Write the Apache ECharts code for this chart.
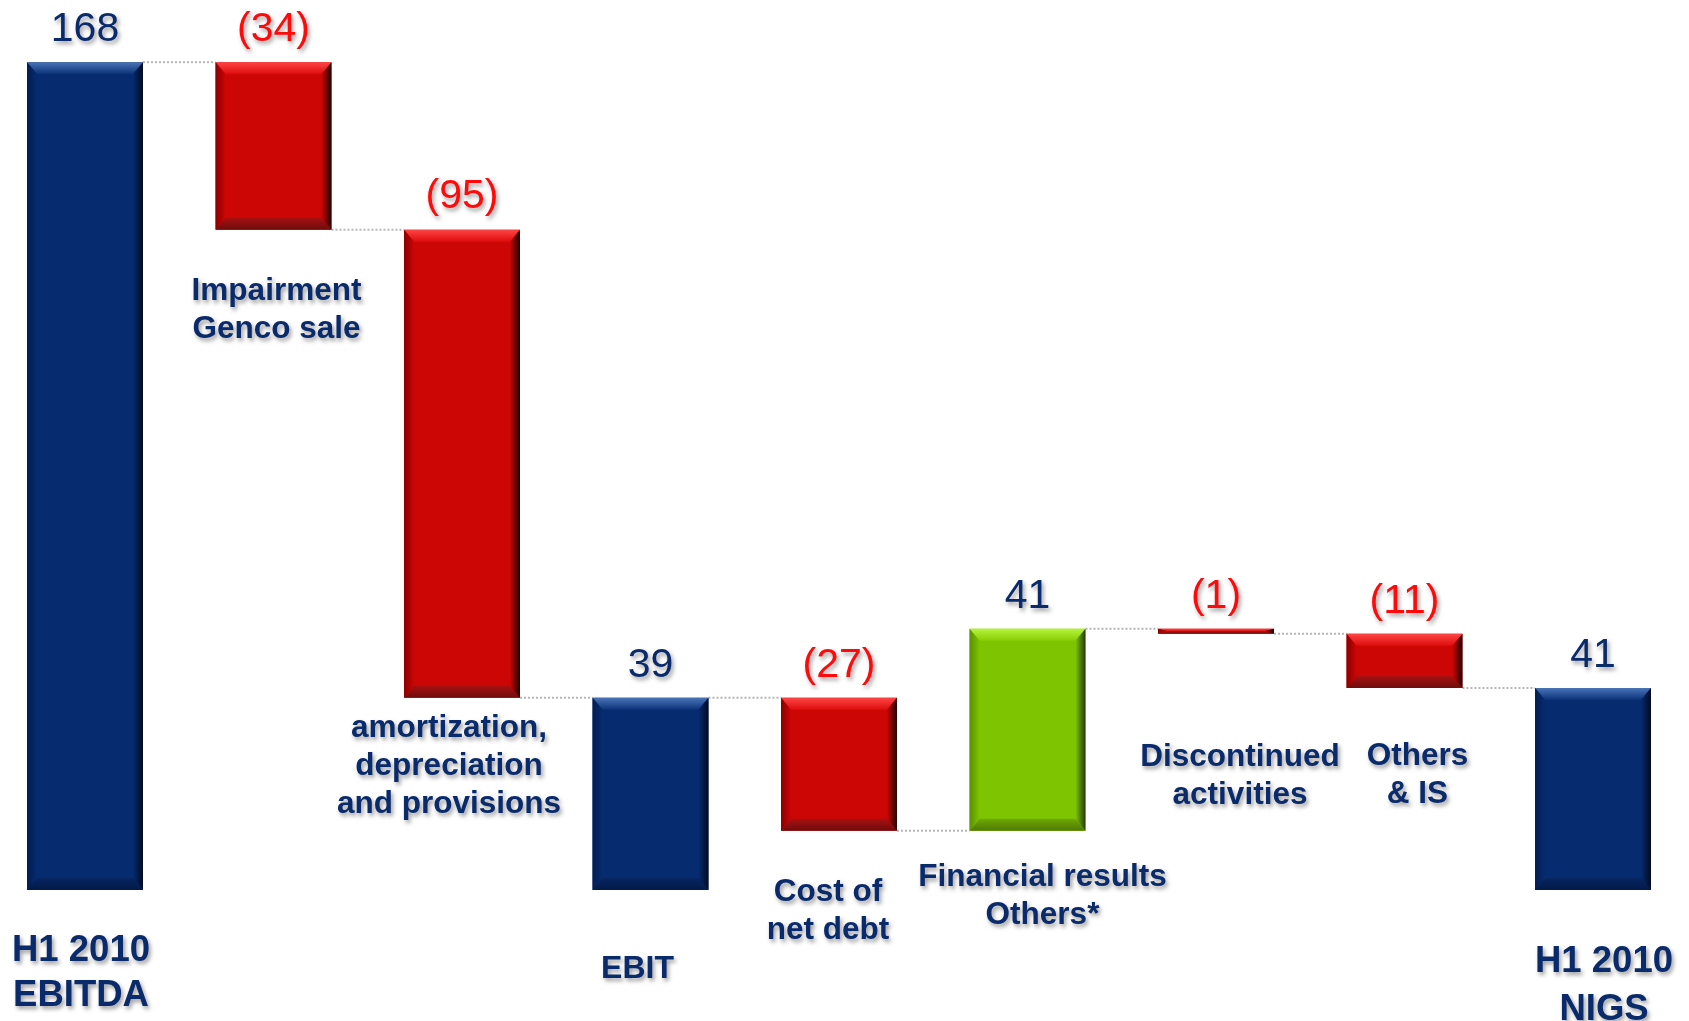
<!DOCTYPE html>
<html>
<head>
<meta charset="utf-8">
<script src="https://cdn.jsdelivr.net/npm/echarts@6/dist/echarts.min.js"></script>
<style>
html,body{margin:0;padding:0;background:#fff;}
#chart{width:1689px;height:1021px;}
</style>
</head>
<body>
<div id="chart"></div>
<script>
// ---- data ----
const categories = ['H1 2010\nEBITDA', 'Impairment\nGenco sale', 'amortization,\ndepreciation\nand provisions', 'EBIT', 'Cost of\nnet debt', 'Financial results\nOthers*', 'Discontinued\nactivities', 'Others\n& IS', 'H1 2010\nNIGS'];
const values = [168, -34, -95, 39, -27, 41, -1, -11, 41];
const isTotal = [true, false, false, true, false, false, false, false, true];
const valueLabels = ['168', '(34)', '(95)', '39', '(27)', '41', '(1)', '(11)', '41'];

// ---- layout / style (not data) ----
const NAVY = '#0a2b6b';
const RED_TXT = '#ff0a0a';
const BAR_RATIO = 0.615;
const FONT = '"Liberation Sans", Arial, sans-serif';
// pixel offsets of the category-name labels of the floating bars, relative to bar bottom
const nameLabelOffset = [null, [3, 43], [-13, 11], null, [-11, 42], [15, 27], [24, 105], [13, 49], null];
const shadow = {textShadowColor: 'rgba(0,0,0,0.38)', textShadowBlur: 4, textShadowOffsetX: 2, textShadowOffsetY: 3};

const PALETTES = [
  {base: '#062b6e', top: ['#4a74b8', '#0b3278'], right: '#000a20', bottom: ['#072560', '#031a48'], left: '#021d52'},
  {base: '#cc0505', top: ['#ff4545', '#dd0c0c'], right: '#1e0000', bottom: ['#a81010', '#6e0d0d'], left: '#8a0000'},
  {base: '#7fc400', top: ['#b4f53a', '#88cc05'], right: '#233a00', bottom: ['#6ea800', '#4d7a00'], left: '#5a8f00'}
];

// ---- build waterfall geometry from values ----
const lows = [], highs = [], kinds = [], levels = [];
let running = 0;
values.forEach((v, i) => {
  if (isTotal[i]) {
    lows.push(0); highs.push(v); kinds.push(0); running = v;
  } else {
    const after = running + v;
    lows.push(Math.min(running, after));
    highs.push(Math.max(running, after));
    kinds.push(v < 0 ? 1 : 2);
    running = after;
  }
  levels.push(running);
});
const n = values.length;
const customData = values.map((v, i) => [i, lows[i], highs[i], kinds[i], levels[i]]);

function renderItem(params, api) {
  const i = api.value(0);
  const low = api.value(1), high = api.value(2), kind = api.value(3), level = api.value(4);
  const pTop = api.coord([i, high]);
  const pBot = api.coord([i, low]);
  const w = api.size([1, 0])[0] * BAR_RATIO;
  const x0 = pTop[0] - w / 2, x1 = pTop[0] + w / 2;
  const yT = pTop[1], yB = pBot[1];
  const h = yB - yT;
  const b = Math.min(12, h / 2);
  const bs = Math.min(10, w / 2);
  const pal = PALETTES[kind];
  const children = [];
  if (i < n - 1) {
    const yL = api.coord([i, level])[1];
    const xN = api.coord([i + 1, 0])[0] - w / 2;
    children.push({type: 'line', shape: {x1: x1, y1: yL, x2: xN, y2: yL},
      style: {stroke: '#b5b5b5', lineWidth: 2, lineDash: [2, 2]}, silent: true});
  }
  children.push({type: 'rect', shape: {x: x0, y: yT, width: w, height: h}, style: {fill: pal.base}});
  children.push({type: 'polygon', shape: {points: [[x0, yT], [x1, yT], [x1 - bs, yT + b], [x0 + bs, yT + b]]},
    style: {fill: {type: 'linear', x: 0, y: 0, x2: 0, y2: 1, colorStops: [{offset: 0, color: pal.top[0]}, {offset: 1, color: pal.top[1]}]}}});
  children.push({type: 'polygon', shape: {points: [[x0 + bs, yB - b], [x1 - bs, yB - b], [x1, yB], [x0, yB]]},
    style: {fill: {type: 'linear', x: 0, y: 0, x2: 0, y2: 1, colorStops: [{offset: 0, color: pal.bottom[0]}, {offset: 1, color: pal.bottom[1]}]}}});
  children.push({type: 'polygon', shape: {points: [[x0, yT], [x0 + bs, yT + b], [x0 + bs, yB - b], [x0, yB]]},
    style: {fill: {type: 'linear', x: 0, y: 0, x2: 1, y2: 0, colorStops: [{offset: 0, color: pal.left}, {offset: 1, color: pal.base}]}}});
  children.push({type: 'polygon', shape: {points: [[x1 - bs, yT + b], [x1, yT], [x1, yB], [x1 - bs, yB - b]]},
    style: {fill: {type: 'linear', x: 0, y: 0, x2: 1, y2: 0, colorStops: [{offset: 0, color: pal.base}, {offset: 1, color: pal.right}]}}});
  return {type: 'group', children: children};
}

const baseData = values.map((v, i) => {
  const item = {value: lows[i]};
  item.label = isTotal[i] ? {show: false} : {show: true, offset: nameLabelOffset[i]};
  return item;
});
const deltaData = values.map((v, i) => ({
  value: highs[i] - lows[i],
  label: {color: (values[i] < 0) ? RED_TXT : NAVY}
}));

const chart = echarts.init(document.getElementById('chart'), null, {renderer: 'canvas'});
chart.setOption({
  animation: false,
  backgroundColor: '#ffffff',
  grid: {left: 85, right: 96, top: 3, bottom: 131, containLabel: false, outerBoundsMode: 'none'},
  xAxis: {
    type: 'category',
    boundaryGap: false,
    data: categories,
    axisLine: {show: false}, axisTick: {show: false}, splitLine: {show: false},
    axisLabel: {
      show: true, interval: 0, margin: 38, verticalAlign: 'top',
      formatter: function (val, idx) {
        if (!isTotal[idx]) return '';
        const parts = val.split('\n');
        if (parts.length === 1) return '{e|' + parts[0] + '}';
        if (idx === n - 1) return '{n1|' + parts[0] + '}\n{n2|' + parts[1] + '}';
        return '{t|' + parts[0] + '}\n{t|' + parts[1] + '}';
      },
      rich: {
        t: Object.assign({fontFamily: FONT, fontWeight: 'bold', fontSize: 36.5, color: NAVY, lineHeight: 45, padding: [0, 8, 0, 0]}, shadow),
        e: Object.assign({fontFamily: FONT, fontWeight: 'bold', fontSize: 32, color: NAVY, lineHeight: 83, padding: [0, 26, 0, 0]}, shadow),
        n1: Object.assign({fontFamily: FONT, fontWeight: 'bold', fontSize: 36.5, color: NAVY, lineHeight: 67, padding: [0, 0, 0, 22]}, shadow),
        n2: Object.assign({fontFamily: FONT, fontWeight: 'bold', fontSize: 36.5, color: NAVY, lineHeight: 29, padding: [0, 0, 0, 22]}, shadow)
      }
    }
  },
  yAxis: {type: 'value', min: 0, max: 180, show: false, splitLine: {show: false}},
  series: [
    {
      type: 'custom', name: 'bars', renderItem: renderItem, data: customData,
      encode: {x: 0, y: [1, 2]}, z: 1, silent: true, clip: false
    },
    {
      type: 'bar', name: 'base', stack: 'w', barWidth: (BAR_RATIO * 100) + '%', z: 3, silent: true,
      itemStyle: {color: 'rgba(0,0,0,0)'},
      data: baseData,
      label: Object.assign({
        position: 'insideTop', distance: 0, align: 'center', verticalAlign: 'top',
        fontFamily: FONT, fontWeight: 'bold', fontSize: 31.5, lineHeight: 38, color: NAVY,
        formatter: function (p) { return categories[p.dataIndex]; }
      }, shadow)
    },
    {
      type: 'bar', name: 'delta', stack: 'w', barWidth: (BAR_RATIO * 100) + '%', z: 3, silent: true,
      itemStyle: {color: 'rgba(0,0,0,0)'},
      data: deltaData,
      label: Object.assign({
        show: true, position: 'top', distance: 12,
        fontFamily: FONT, fontSize: 41, color: NAVY,
        formatter: function (p) { return valueLabels[p.dataIndex]; }
      }, shadow)
    }
  ]
});
</script>
</body>
</html>
